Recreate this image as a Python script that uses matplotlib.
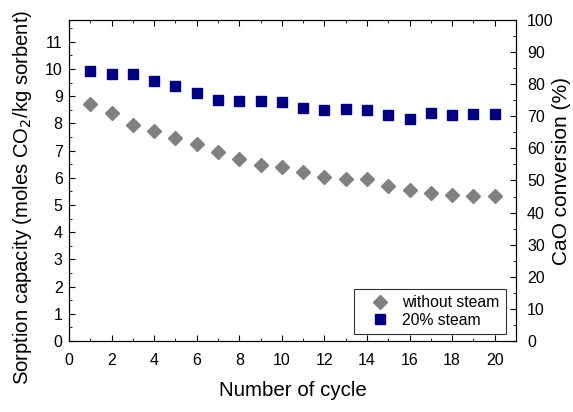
import matplotlib
matplotlib.use("Agg")
import matplotlib.pyplot as plt
from matplotlib.ticker import MultipleLocator

plt.rcParams['font.family'] = ['Liberation Sans', 'DejaVu Sans']

cycles = list(range(1, 21))
without_steam = [8.70, 8.38, 7.95, 7.73, 7.47, 7.25, 6.95, 6.69, 6.48, 6.38,
                 6.22, 6.04, 5.96, 5.96, 5.70, 5.55, 5.43, 5.37, 5.32, 5.32]
steam_20 = [9.93, 9.82, 9.82, 9.55, 9.36, 9.10, 8.87, 8.82, 8.83, 8.80,
            8.58, 8.49, 8.52, 8.50, 8.32, 8.16, 8.37, 8.30, 8.35, 8.35]

fig = plt.figure(figsize=(5.73, 4.12), dpi=100)
ax = fig.add_axes([0.1204, 0.1723, 0.9005 - 0.1204, 0.9515 - 0.1723])
ax.plot(cycles, without_steam, linestyle='none', marker='D', color='#808080',
        markersize=7, label='without steam')
ax.plot(cycles, steam_20, linestyle='none', marker='s', color='#000080',
        markersize=6.8, label='20% steam')
ax.set_xlim(0, 21)
ax.set_ylim(0, 11.8)
ax.xaxis.set_major_locator(MultipleLocator(2))
ax.xaxis.set_minor_locator(MultipleLocator(1))
ax.yaxis.set_major_locator(MultipleLocator(1))
ax.yaxis.set_minor_locator(MultipleLocator(0.5))
ax.tick_params(which='both', direction='in', top=True, labelsize=11.5)
ax.tick_params(which='major', length=4)
ax.tick_params(which='minor', length=2.5)
ax.tick_params(axis='x', which='major', pad=8.5)
ax.tick_params(axis='y', which='major', pad=4.5)
ax.set_xlabel('Number of cycle', fontsize=14.8)
ax.set_ylabel('Sorption capacity (moles CO$_2$/kg sorbent)', fontsize=14.6)
ax.xaxis.set_label_coords(0.5, -0.125)
ax.yaxis.set_label_coords(-0.078, 0.447)

ax2 = ax.twinx()
ax2.set_ylim(0, 100)
ax2.yaxis.set_major_locator(MultipleLocator(10))
ax2.yaxis.set_minor_locator(MultipleLocator(5))
ax2.tick_params(which='both', direction='in', labelsize=11.5)
ax2.tick_params(which='major', length=4, pad=8)
ax2.tick_params(which='minor', length=2.5)
ax2.set_ylabel('CaO conversion (%)', fontsize=15)
ax2.yaxis.set_label_coords(1.08, 0.531)

leg = ax.legend(loc='lower right', bbox_to_anchor=(1 - 10 / 447, 7 / 321),
                borderaxespad=0, fontsize=11.3, frameon=True, fancybox=False,
                edgecolor='black', borderpad=0.4, handlelength=2.5,
                handletextpad=0.2, labelspacing=0.15)
leg.get_frame().set_linewidth(0.8)

fig.savefig('out.png', dpi=100)
